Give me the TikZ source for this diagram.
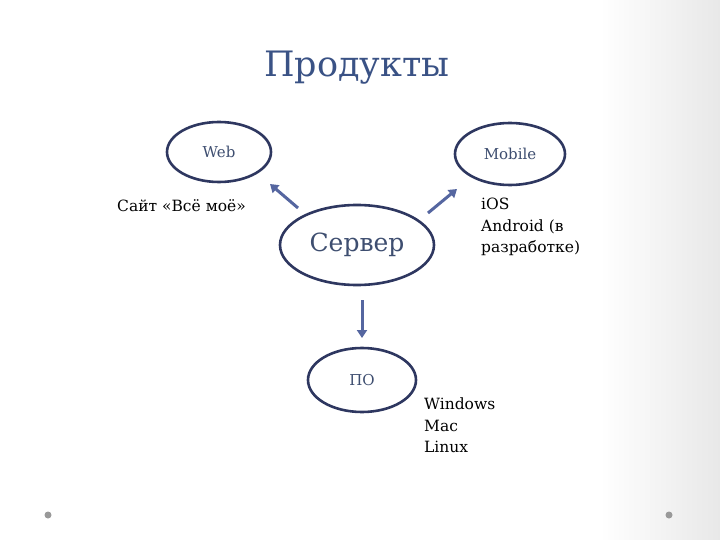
\documentclass[tikz,border=0pt]{standalone}
\usepackage{fontspec}
\setmainfont{DejaVu Serif}
\usetikzlibrary{shapes.geometric,arrows.meta}
\definecolor{ring}{HTML}{2E3760}
\definecolor{arr}{HTML}{5566A0}
\definecolor{lbl}{HTML}{3E4E70}
\definecolor{ttl}{HTML}{3A5285}
\tikzset{
  oval/.style={ellipse,draw=ring,line width=2.6pt,inner sep=0pt},
  conn/.style={draw=arr,line width=3pt,-{Triangle[length=8pt,width=10pt]}},
  plain/.style={anchor=north west,align=left,font=\fontsize{15.5}{21.5}\selectfont,inner sep=0pt}
}
\begin{document}
\begin{tikzpicture}[x=1pt,y=-1pt]
\useasboundingbox (0,0) rectangle (720,540);
\fill[white] (0,0) rectangle (600,540);
\shade[left color=white,right color=gray!18] (600,0) rectangle (720,540);
\node[font=\fontsize{35}{40}\selectfont,text=ttl] (title) at (357,68) {Продукты};
\node[oval,minimum width=104pt,minimum height=60pt,font=\fontsize{15}{17}\selectfont,text=lbl] (web) at (219,152) {Web};
\node[oval,minimum width=110pt,minimum height=62pt,font=\fontsize{15}{17}\selectfont,text=lbl] (mob) at (510,154) {Mobile};
\node[oval,minimum width=154pt,minimum height=80pt,font=\fontsize{25}{28}\selectfont,text=lbl] (srv) at (357,245) {Сервер};
\node[oval,minimum width=108pt,minimum height=64pt,font=\fontsize{15}{17}\selectfont,text=lbl] (po) at (362,380) {ПО};
\node[plain] (site) at (117,199) {Сайт «Всё моё»};
\node[plain] (ios) at (481,198) {iOS\\Android (в\\разработке)};
\node[plain] (os) at (424,398) {Windows\\Mac\\Linux};
\coordinate (a1) at (298,208); \coordinate (b1) at (270,184);
\coordinate (a2) at (428,213); \coordinate (b2) at (457,189);
\coordinate (a3) at (362,300); \coordinate (b3) at (362,338);
\draw[conn] (a1) -- (b1);
\draw[conn] (a2) -- (b2);
\draw[conn] (a3) -- (b3);
\fill[gray!80] (48,515) circle (3.5pt) coordinate (d1);
\fill[gray!80] (669,515) circle (3.5pt) coordinate (d2);
\end{tikzpicture}
\end{document}
